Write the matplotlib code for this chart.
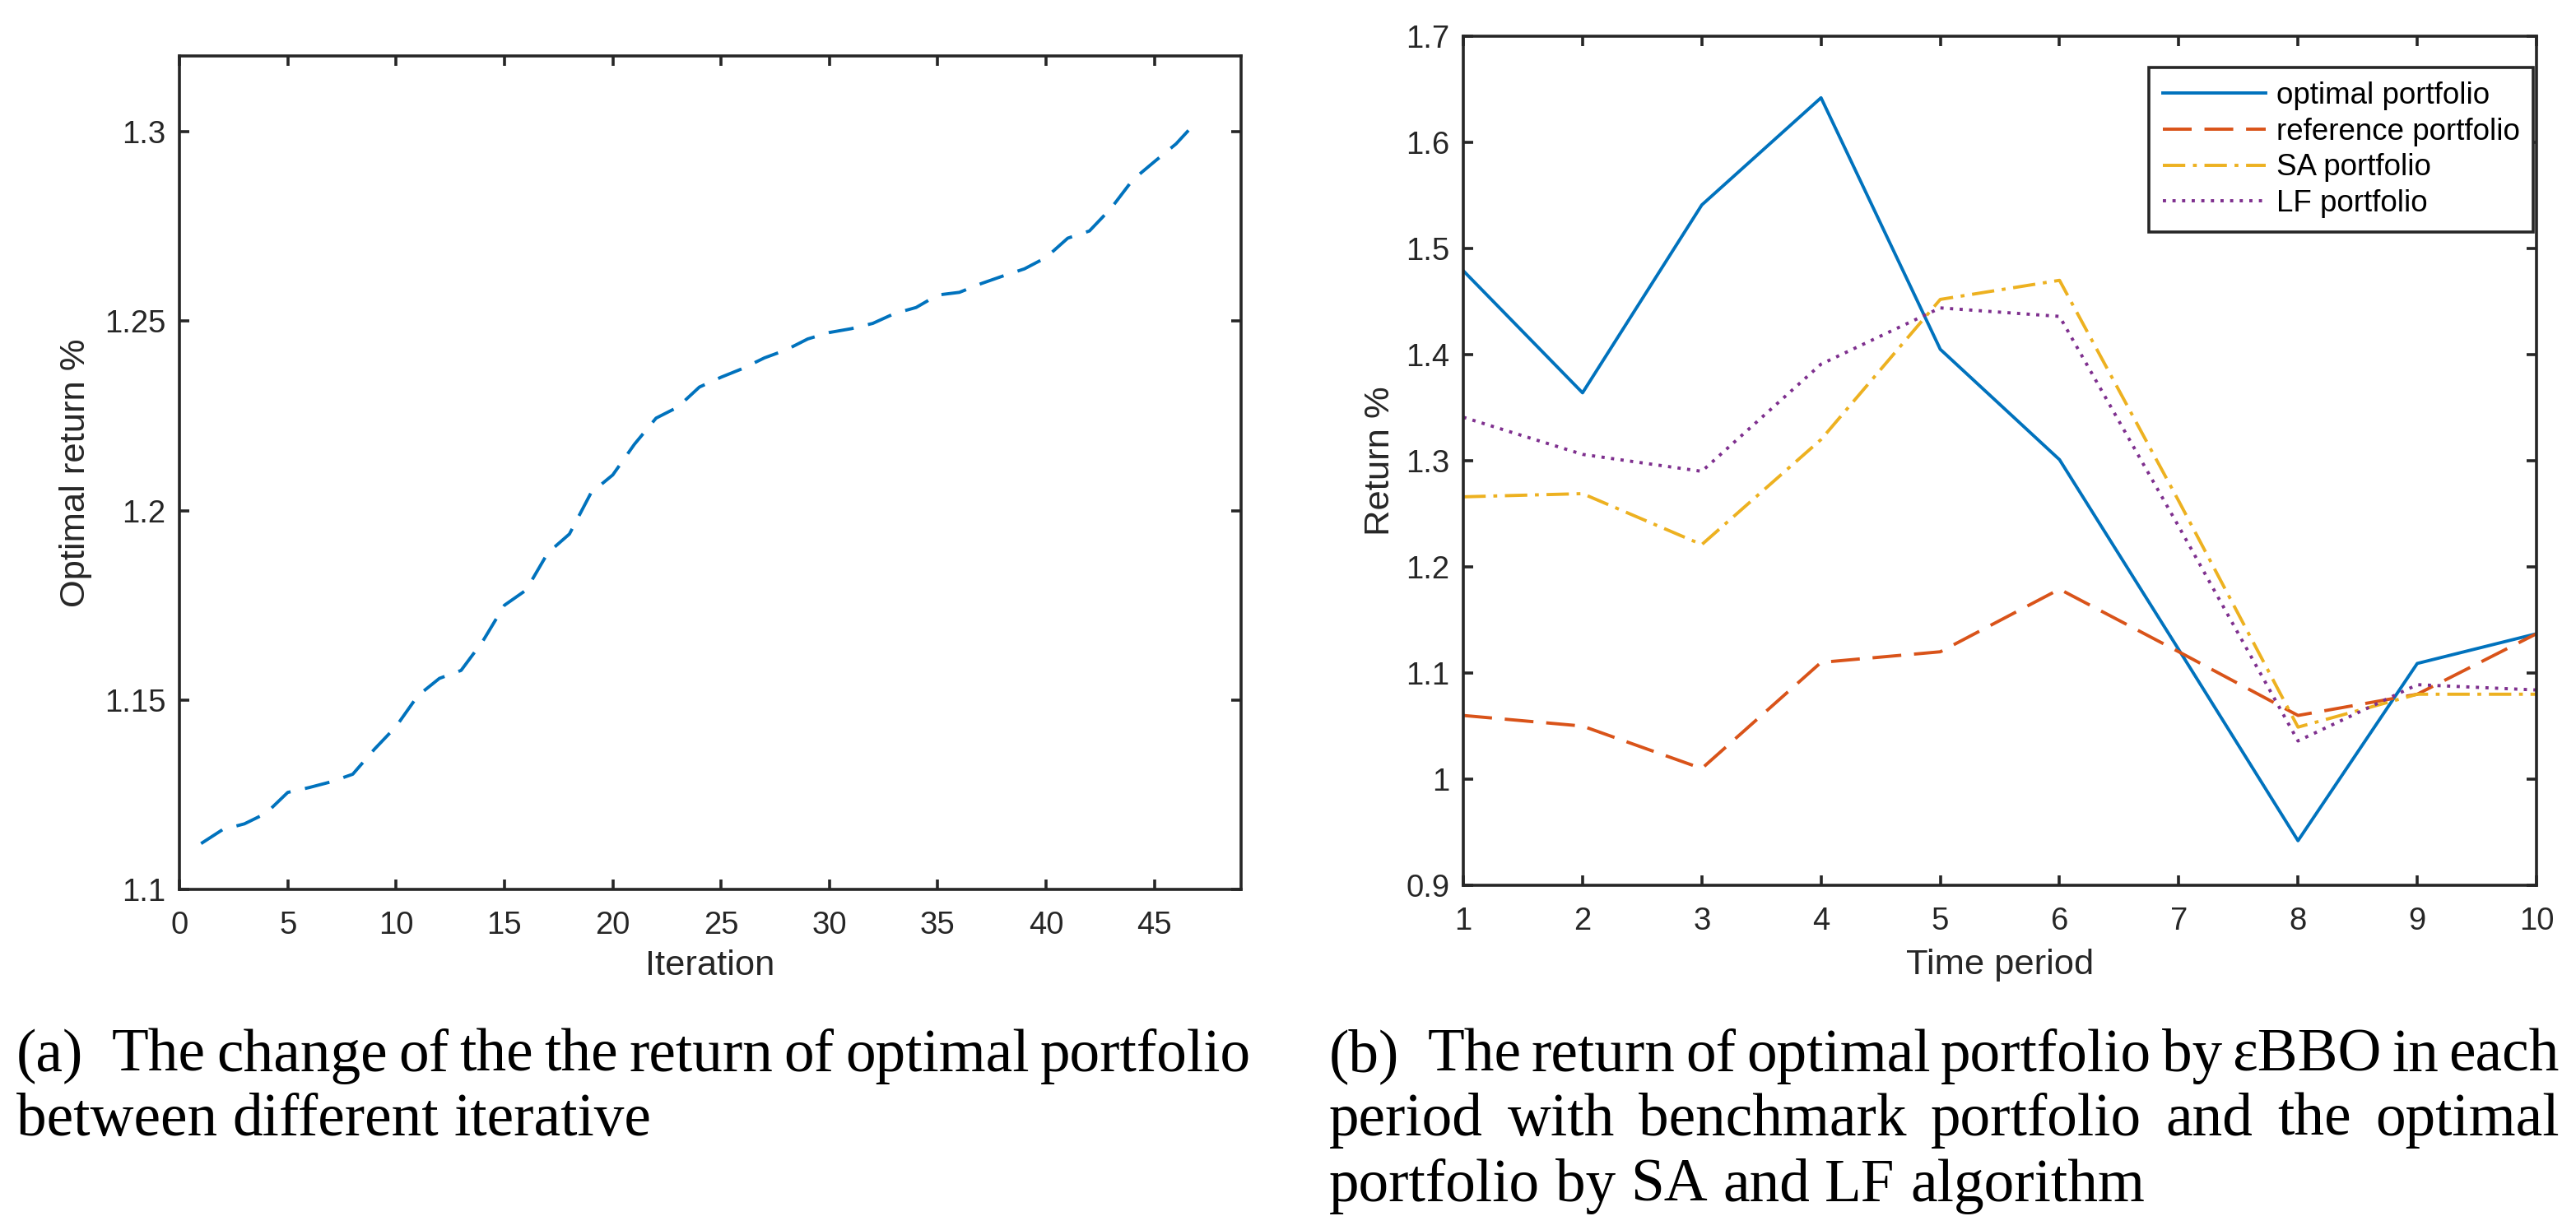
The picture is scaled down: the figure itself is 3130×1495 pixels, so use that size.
import matplotlib
matplotlib.use('Agg')
import matplotlib.pyplot as plt
import numpy as np
from matplotlib.transforms import IdentityTransform

# ---- data (a): optimal return per iteration ----
iterations = np.arange(1, 48)
optimal_return = [1.1121, 1.1158, 1.1173, 1.1201, 1.1256, 1.1269, 1.1284, 1.1304,
                  1.1370, 1.1430, 1.1511, 1.1557, 1.1578, 1.1655, 1.1750, 1.1790,
                  1.1888, 1.1938, 1.2047, 1.2094, 1.2175, 1.2244, 1.2273, 1.2326,
                  1.2352, 1.2375, 1.2403, 1.2424, 1.2453, 1.2470, 1.2480, 1.2494,
                  1.2520, 1.2536, 1.2569, 1.2576, 1.2599, 1.2619, 1.2638, 1.2668,
                  1.2719, 1.2738, 1.2798, 1.2873, 1.2921, 1.2968, 1.3030]
a_xticks = [0, 5, 10, 15, 20, 25, 30, 35, 40, 45]
a_yticks = [1.1, 1.15, 1.2, 1.25, 1.3]
a_ylabels = ['1.1', '1.15', '1.2', '1.25', '1.3']

# ---- data (b): return per time period ----
periods = np.arange(1, 11)
optimal_pf = [1.479, 1.364, 1.541, 1.642, 1.405, 1.301, 1.122, 0.942, 1.109, 1.137]
reference_pf = [1.060, 1.050, 1.010, 1.110, 1.120, 1.179, 1.120, 1.060, 1.080, 1.137]
sa_pf = [1.266, 1.269, 1.221, 1.320, 1.452, 1.470, 1.262, 1.049, 1.080, 1.080]
lf_pf = [1.341, 1.306, 1.290, 1.391, 1.444, 1.436, 1.238, 1.036, 1.089, 1.084]
series_names = ['optimal portfolio', 'reference portfolio', 'SA portfolio', 'LF portfolio']
b_yticks = [0.9, 1.0, 1.1, 1.2, 1.3, 1.4, 1.5, 1.6, 1.7]
b_ylabels = ['0.9', '1', '1.1', '1.2', '1.3', '1.4', '1.5', '1.6', '1.7']

cap_a = ['The change of the the return of optimal portfolio',
         'between different iterative']
cap_b = ['The return of optimal portfolio by \u03b5BBO in each',
         'period with benchmark portfolio and the optimal',
         'portfolio by SA and LF algorithm']

# matlab-ish colours
blue, red, yellow, purple = '#0072BD', '#D95319', '#EDB120', '#7E2F8E'
axc = '#262626'

plt.rcParams['font.family'] = ['Liberation Sans', 'DejaVu Sans']
plt.rcParams['axes.edgecolor'] = axc
plt.rcParams['xtick.color'] = axc
plt.rcParams['ytick.color'] = axc

fig = plt.figure(figsize=(31.3, 14.95), dpi=100)
W, H = 3130.0, 1495.0
LW = 2.8


def style_axes(ax):
    for s in ax.spines.values():
        s.set_linewidth(2.6)
    ax.tick_params(direction='in', length=8.5, width=2.6, labelsize=27.5,
                   top=True, right=True, labelcolor=axc)
    ax.tick_params(axis='x', pad=19)
    ax.tick_params(axis='y', pad=12)


# (a)
ax1 = fig.add_axes([218 / W, 1 - 1081 / H, 1290 / W, 1013 / H])
ax1.plot(iterations, optimal_return, color=blue, lw=LW, dashes=(7.9, 4.6))
ax1.set_xlim(0, 49)
ax1.set_ylim(1.1, 1.32)
ax1.set_xticks(a_xticks)
ax1.set_yticks(a_yticks)
ax1.set_yticklabels(a_ylabels)
style_axes(ax1)
ax1.set_xlabel('Iteration', fontsize=31.3, color=axc)
ax1.set_ylabel('Optimal return %', fontsize=31.3, color=axc)
ax1.xaxis.set_label_coords(0.5, -0.072)
ax1.yaxis.set_label_coords(-0.082, 0.5)

# (b)
ax2 = fig.add_axes([1778 / W, 1 - 1076 / H, 1304 / W, 1032 / H])
ax2.plot(periods, optimal_pf, color=blue, lw=LW, label=series_names[0])
ax2.plot(periods, reference_pf, color=red, lw=LW, dashes=(9, 4), label=series_names[1])
ax2.plot(periods, sa_pf, color=yellow, lw=LW, dashes=(7, 2.4, 1.2, 2.4), label=series_names[2])
ax2.plot(periods, lf_pf, color=purple, lw=LW, dashes=(1, 2), label=series_names[3])
ax2.set_xlim(1, 10)
ax2.set_ylim(0.9, 1.7)
ax2.set_xticks(periods)
ax2.set_yticks(b_yticks)
ax2.set_yticklabels(b_ylabels)
style_axes(ax2)
ax2.set_xlabel('Time period', fontsize=31.3, color=axc)
ax2.set_ylabel('Return %', fontsize=31.3, color=axc)
ax2.xaxis.set_label_coords(0.5, -0.075)
ax2.yaxis.set_label_coords(-0.062, 0.5)
leg = ax2.legend(loc='upper right', bbox_to_anchor=(0.997, 0.963), borderaxespad=0,
                 fontsize=26.5, handlelength=3.4, handletextpad=0.35, labelspacing=0.24,
                 borderpad=0.45, fancybox=False, framealpha=1, edgecolor=axc)
leg.get_frame().set_linewidth(2.6)

# captions, justified like the latex subcaption
serif = ['Liberation Serif', 'DejaVu Serif']
renderer = fig.canvas.get_renderer()


def text_w(s, size):
    t = fig.text(0, 0, s, fontsize=size, family=serif, transform=IdentityTransform())
    w = t.get_window_extent(renderer).width
    t.remove()
    return w


def caption_line(label, line, x0, x1, y, size, justify):
    tr = IdentityTransform()
    start = x0
    if label:
        fig.text(x0, y, label, fontsize=size, family=serif, transform=tr, va='baseline')
        start = x0 + text_w(label, size) + 34
    words = line.split(' ')
    widths = [text_w(w, size) for w in words]
    if justify and len(words) > 1:
        gap = (x1 - start - sum(widths)) / (len(words) - 1)
    else:
        gap = text_w('a a', size) - text_w('aa', size)
    x = start
    for w, ww in zip(words, widths):
        fig.text(x, y, w, fontsize=size, family=serif, transform=tr, va='baseline')
        x += ww + gap


base = 40.0
cap_size = 1.02 * base * (1395.0 / text_w(cap_a[0], base))
baselines = [H - 1302, H - 1380, H - 1460]

caption_line('(a)', cap_a[0], 20, 1520, baselines[0], cap_size, True)
caption_line(None, cap_a[1], 20, 1520, baselines[1], cap_size, False)
caption_line('(b)', cap_b[0], 1615, 3110, baselines[0], cap_size, True)
caption_line(None, cap_b[1], 1615, 3110, baselines[1], cap_size, True)
caption_line(None, cap_b[2], 1615, 3110, baselines[2], cap_size, False)

fig.savefig('out.png', dpi=100)
